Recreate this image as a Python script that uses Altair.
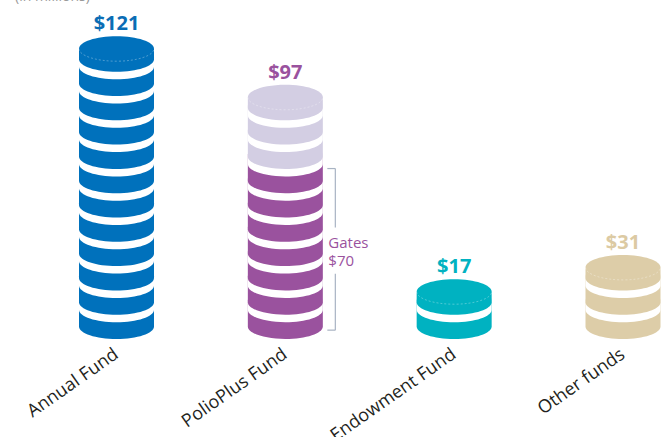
import altair as alt
import pandas as pd

# ---- data ----
funds = ["Annual Fund", "PolioPlus Fund", "Endowment Fund", "Other funds"]
totals = [121, 97, 17, 31]
total_labels = ["$121", "$97", "$17", "$31"]
coin_unit = 10                # one coin = $10 million
gates_fund = "PolioPlus Fund"
gates_value = 70
gates_lines = ["Gates", "$70"]
note_text = "(in millions)"

fund_colors = ["#0071bc", "#d3cee3", "#00b2c1", "#ddcda8"]
gates_color = "#9a529e"
label_colors = ["#0a6db5", "#9a529e", "#00b2c1", "#dccaa3"]

# ---- layout constants (pixels) ----
PX_PER_DOLLAR = 2.43
BASE_PX = 326.5
H = 437
W = 670
COIN_W = 75
RY = 12.5
T_LOW = 26.0
T_TOP = 10.5
GAP_PX = 7.5

u = COIN_W / 2.0
ry = RY / u
tl = T_LOW / u
tt = T_TOP / u
coin_path = f"M -1 0 A 1 {ry:.4f} 0 0 0 1 0 L 1 {-tl:.4f} A 1 {ry:.4f} 0 0 0 -1 {-tl:.4f} Z"
top_path = f"M -1 0 A 1 {ry:.4f} 0 0 0 1 0 L 1 {-tt:.4f} A 1 {ry:.4f} 0 0 0 -1 {-tt:.4f} Z"
edge_path = f"M -1 {-tt:.4f} A 1 {ry:.4f} 0 0 0 1 {-tt:.4f}"

ymax = BASE_PX / PX_PER_DOLLAR
ymin = ymax - H / PX_PER_DOLLAR
gap = GAP_PX / PX_PER_DOLLAR

lower_rows, top_rows, top_colored, total_rows = [], [], [], []
for i, f in enumerate(funds):
    n = int(round(totals[i] / coin_unit))
    for k in range(n):
        col = gates_color if (f == gates_fund and k < gates_value // coin_unit) else fund_colors[i]
        level = k * coin_unit
        target = top_rows if k == n - 1 else lower_rows
        if k > 0:
            target.append(dict(fund=f, y=level - gap, fill="#ffffff", z=2 * k))
        target.append(dict(fund=f, y=level, fill=col, z=2 * k + 1))
        if k == n - 1:
            top_colored.append(dict(fund=f, y=level, fill=col))
            total_rows.append(dict(fund=f, y=level, label=total_labels[i], color=label_colors[i]))

lower_df = pd.DataFrame(lower_rows)
top_df = pd.DataFrame(top_rows)
edge_df = pd.DataFrame(top_colored)
tot_df = pd.DataFrame(total_rows)
cat_df = pd.DataFrame({"fund": funds, "y": [0] * len(funds)})

gates_coins = gates_value // coin_unit
text_y = 30.7
br_lo = -1.5
br_hi = (gates_coins - 1) * coin_unit + 5
br_seg = pd.DataFrame({"fund": [gates_fund, gates_fund],
                       "y1": [br_lo, text_y + 10], "y2": [text_y - 9, br_hi]})
br_tick = pd.DataFrame({"fund": [gates_fund, gates_fund], "y": [br_lo, br_hi]})
gates_df = pd.DataFrame({"fund": [gates_fund] * 2,
                         "y": [text_y + 3.8, text_y - 3.8], "t": gates_lines})

xs = alt.Scale(type="point", domain=funds, range=[116.5, 623], padding=0)
ys = alt.Scale(domain=[ymin, ymax], nice=False, zero=False)
X = alt.X("fund:N", scale=xs, axis=None)
Y = alt.Y("y:Q", scale=ys, axis=None)

lower = alt.Chart(lower_df).mark_point(
    shape=coin_path, size=COIN_W ** 2, filled=True, opacity=1, strokeOpacity=0
).encode(x=X, y=Y, fill=alt.Fill("fill:N", scale=None), order=alt.Order("z:Q"))

top = alt.Chart(top_df).mark_point(
    shape=top_path, size=COIN_W ** 2, filled=True, opacity=1, strokeOpacity=0
).encode(x=X, y=Y, fill=alt.Fill("fill:N", scale=None), order=alt.Order("z:Q"))

edge = alt.Chart(edge_df).mark_point(
    shape=edge_path, size=COIN_W ** 2, filled=False, opacity=1, stroke="#ffffff",
    strokeOpacity=0.3, strokeDash=[2, 2], strokeWidth=1
).encode(x=X, y=Y)

tot_txt = alt.Chart(tot_df).mark_text(
    font="Open Sans", fontWeight="bold", fontSize=20, baseline="alphabetic",
    align="center", dy=-29
).encode(x=X, y=Y, text="label:N", color=alt.Color("color:N", scale=None))

cat_txt = alt.Chart(cat_df).mark_text(
    font="Open Sans", fontSize=18, align="right", baseline="top", angle=325,
    xOffset=-5, yOffset=19, color="#231f20"
).encode(x=X, y=Y, text="fund:N")

br_v = alt.Chart(br_seg).mark_rule(xOffset=50, color="#a8b3c3", strokeWidth=1.2).encode(
    x=X, y=alt.Y("y1:Q", scale=ys, axis=None), y2="y2:Q")
br_t = alt.Chart(br_tick).mark_rule(xOffset=42, x2Offset=50, color="#a8b3c3", strokeWidth=1.2).encode(
    x=X, x2="fund", y=Y)

gates_txt = alt.Chart(gates_df).mark_text(
    font="Open Sans", fontSize=15, align="left", baseline="middle",
    xOffset=43, color=gates_color
).encode(x=X, y=Y, text="t:N")

note = alt.Chart(pd.DataFrame({"t": [note_text]})).mark_text(
    font="Open Sans", fontSize=14, align="left", baseline="alphabetic", color="#9a9a9a"
).encode(x=alt.value(15), y=alt.value(1), text="t:N")

chart = alt.layer(lower, top, edge, tot_txt, cat_txt, br_v, br_t, gates_txt, note).properties(
    width=W, height=H, padding=0, autosize="none"
).configure_view(stroke=None)

chart.save("out.html", embed_options={"renderer": "svg", "actions": False})
